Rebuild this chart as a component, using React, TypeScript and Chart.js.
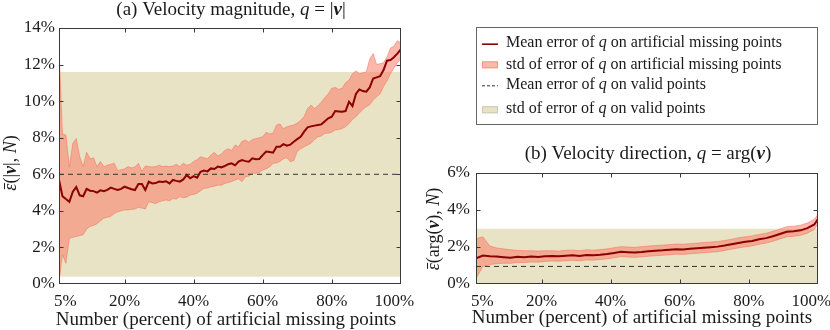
import React, { useEffect, useRef } from "react";
import { Chart, registerables } from "chart.js";

Chart.register(...registerables);

// ---------------- data ----------------
const xA = [
  1, 2, 3, 4, 5, 6, 7, 8, 9, 10, 11, 12, 13, 14, 15, 16, 17, 18, 19, 20,
  21, 22, 23, 24, 25, 26, 27, 28, 29, 30, 31, 32, 33, 34, 35, 36, 37, 38, 39, 40,
  41, 42, 43, 44, 45, 46, 47, 48, 49, 50, 51, 52, 53, 54, 55, 56, 57, 58, 59, 60,
  61, 62, 63, 64, 65, 66, 67, 68, 69, 70, 71, 72, 73, 74, 75, 76, 77, 78, 79, 80,
  81, 82, 83, 84, 85, 86, 87, 88, 89, 90, 91, 92, 93, 94, 95, 96, 97, 98, 99, 100,
];
const meanA = [
  5.7, 4.8, 4.65, 4.5, 5.05, 5.3, 4.85, 4.8, 5.2, 5.1,
  5.08, 5.0, 5.12, 5.07, 5.15, 5.27, 5.2, 5.14, 5.2, 5.32,
  5.25, 5.18, 5.14, 5.47, 5.47, 5.14, 5.6, 5.5, 5.52, 5.6,
  5.58, 5.62, 5.5, 5.69, 5.64, 5.6, 5.72, 5.96, 5.78, 5.9,
  5.81, 6.14, 6.2, 6.16, 6.32, 6.29, 6.42, 6.38, 6.45, 6.55,
  6.6, 6.49, 6.69, 6.78, 6.72, 6.69, 6.87, 6.82, 6.84, 7.05,
  7.24, 7.22, 7.18, 7.5, 7.5, 7.65, 7.56, 7.62, 7.78, 7.92,
  8.05, 8.33, 8.57, 8.62, 8.66, 8.7, 8.73, 8.9, 9.06, 9.15,
  9.46, 9.44, 9.42, 9.46, 9.97, 9.73, 10.39, 10.64, 10.55, 10.52,
  10.75, 11.24, 11.3, 11.36, 11.7, 12.21, 12.25, 12.4, 12.6, 12.83,
];
const upperA = [
  12.9, 8.2, 8.15, 6.4, 7.7, 7.96, 6.96, 6.42, 7.2, 6.85,
  6.9, 6.42, 6.7, 6.42, 6.5, 6.55, 6.6, 6.2, 6.25, 6.3,
  6.42, 6.35, 6.4, 6.6, 6.16, 6.45, 6.42, 6.4, 6.42, 6.5,
  6.42, 6.45, 6.42, 6.45, 6.55, 6.42, 6.6, 6.5, 6.55, 6.7,
  6.8, 6.96, 6.9, 6.85, 7.05, 7.2, 7.0, 7.1, 7.3, 7.4,
  7.3, 7.6, 7.5, 7.8, 7.87, 7.75, 7.9, 7.95, 8.0, 8.05,
  8.3, 8.2, 8.25, 8.7, 8.75, 8.5, 8.6, 8.65, 8.7, 8.8,
  8.95, 9.15, 9.6, 9.79, 9.6, 9.75, 9.95, 10.2, 10.4, 10.7,
  10.75, 10.65, 10.7, 11.0, 11.15, 11.5, 11.66, 11.5, 11.55, 11.6,
  12.3, 12.6, 12.0, 12.05, 12.1, 12.4, 12.9, 13.0, 13.3, 13.2,
];
const lowerA = [
  0.1, 1.6, 1.13, 2.5, 2.55, 2.6, 2.65, 2.7, 3.0, 3.15,
  3.2, 3.3, 3.45, 3.6, 3.65, 3.7, 3.85, 3.95, 4.0, 4.05,
  4.05, 4.08, 4.1, 4.2, 4.15, 4.1, 4.5, 4.45, 4.4, 4.5,
  4.55, 4.6, 4.55, 4.67, 4.65, 4.78, 4.72, 4.75, 4.87, 4.9,
  4.96, 5.1, 5.23, 5.25, 5.32, 5.35, 5.41, 5.4, 5.5, 5.55,
  5.6, 5.69, 5.75, 5.6, 5.87, 5.9, 6.05, 6.05, 6.1, 6.23,
  6.3, 6.4, 6.6, 6.62, 6.7, 6.85, 6.9, 6.69, 6.75, 7.24,
  7.4, 7.5, 7.6, 7.7, 7.9, 8.05, 8.1, 8.24, 8.25, 8.3,
  8.42, 8.45, 8.5, 8.6, 8.78, 9.0, 9.15, 9.35, 9.55, 9.7,
  9.8, 10.06, 10.24, 10.4, 10.8, 11.1, 11.5, 11.8, 12.1, 12.3,
];
const validMeanA = 6.0;
const validStdA = [0.4, 11.6];

const xB = [
  1, 3, 5, 7, 9, 11, 13, 15, 17, 19, 21, 23, 25, 27, 29, 31, 33, 35, 37, 39,
  41, 43, 45, 47, 49, 51, 53, 55, 57, 59, 61, 63, 65, 67, 69, 71, 73, 75, 77, 79,
  81, 83, 85, 87, 89, 91, 93, 95, 97, 99, 100,
];
const meanB = [
  1.39, 1.54, 1.5, 1.48, 1.45, 1.42, 1.47, 1.45, 1.48, 1.46,
  1.5, 1.52, 1.5, 1.53, 1.55, 1.52, 1.57, 1.55, 1.58, 1.62,
  1.68, 1.74, 1.72, 1.7, 1.73, 1.77, 1.8, 1.82, 1.85, 1.88,
  1.87, 1.9, 1.93, 1.96, 1.99, 2.02, 2.08, 2.15, 2.22, 2.28,
  2.33, 2.42, 2.48, 2.58, 2.7, 2.82, 2.85, 2.9, 3.02, 3.22, 3.5,
];
const upperB = [
  2.45, 2.55, 2.05, 1.95, 1.9, 1.85, 1.82, 1.8, 1.8, 1.78,
  1.8, 1.8, 1.78, 1.82, 1.83, 1.8, 1.85, 1.83, 1.86, 1.9,
  1.96, 2.02, 2.0, 1.98, 2.02, 2.05, 2.08, 2.1, 2.13, 2.16,
  2.15, 2.18, 2.21, 2.24, 2.27, 2.3, 2.35, 2.42, 2.5, 2.55,
  2.6, 2.68, 2.74, 2.85, 2.97, 3.1, 3.12, 3.18, 3.3, 3.5, 3.75,
];
const lowerB = [
  0.3, 0.95, 1.05, 1.1, 1.12, 1.12, 1.16, 1.16, 1.19, 1.18,
  1.22, 1.24, 1.23, 1.26, 1.28, 1.26, 1.3, 1.29, 1.32, 1.36,
  1.42, 1.48, 1.46, 1.44, 1.47, 1.5, 1.53, 1.55, 1.58, 1.61,
  1.6, 1.63, 1.66, 1.69, 1.72, 1.75, 1.81, 1.88, 1.95, 2.01,
  2.06, 2.15, 2.21, 2.31, 2.43, 2.55, 2.58, 2.63, 2.75, 2.95, 3.25,
];
const validMeanB = 0.95;
const validStdB = [-0.2, 2.98];

const xTickValues = [1, 20, 40, 60, 80, 100];
const xTickLabels = ["5%", "20%", "40%", "60%", "80%", "100%"];
const yTicksA = [0, 2, 4, 6, 8, 10, 12, 14];
const yTicksB = [0, 2, 4, 6];

const legendLabels = [
  [["Mean error of "], ["q", "i"], [" on artificial missing points"]],
  [["std of error of "], ["q", "i"], [" on artificial missing points"]],
  [["Mean error of "], ["q", "i"], [" on valid points"]],
  [["std of error of "], ["q", "i"], [" on valid points"]],
];

// ---------------- styles ----------------
const FAM = "'Liberation Serif', 'DejaVu Serif', serif";
const MEAN_COLOR = "#8b0000";
const BAND_FILL = "rgba(251,113,93,0.5)";
const BAND_EDGE = "rgba(251,113,93,0.55)";
const VALID_FILL = "rgb(233,227,198)";
const DASH_COLOR = "#333";
const TEXT = "#1a1a1a";
const TICK_SIZE = 17;
const TITLE_SIZE = 19;
const EDGE_PAD = "   "; // nudges the two end labels inward, as in the reference

type Seg = string[];

function segFont(style: string | undefined, size: number) {
  if (style === "i" || style === "ibar") return `italic ${size}px ${FAM}`;
  if (style === "bi") return `italic bold ${size}px ${FAM}`;
  return `${size}px ${FAM}`;
}

function drawRich(
  ctx: CanvasRenderingContext2D,
  segs: Seg[],
  x: number,
  y: number,
  size: number,
  rotate = false,
  align: "center" | "left" = "center"
) {
  ctx.save();
  ctx.fillStyle = TEXT;
  ctx.strokeStyle = TEXT;
  ctx.textBaseline = "middle";
  ctx.textAlign = "left";
  let w = 0;
  for (const s of segs) {
    ctx.font = segFont(s[1], size);
    w += ctx.measureText(s[0]).width;
  }
  ctx.translate(x, y);
  if (rotate) ctx.rotate(-Math.PI / 2);
  let cx = align === "center" ? -w / 2 : 0;
  for (const s of segs) {
    ctx.font = segFont(s[1], size);
    const sw = ctx.measureText(s[0]).width;
    ctx.fillText(s[0], cx, 0);
    if (s[1] === "ibar") {
      ctx.lineWidth = 1;
      ctx.beginPath();
      ctx.moveTo(cx + 1.5, -size * 0.36);
      ctx.lineTo(cx + sw + 0.5, -size * 0.36);
      ctx.stroke();
    }
    cx += sw;
  }
  ctx.restore();
}

type PanelCfg = {
  xs: number[];
  mean: number[];
  upper: number[];
  lower: number[];
  validMean: number;
  validStd: number[];
  yMax: number;
  yTicks: number[];
  yWidth: number;
  yTickPad: number;
  padTop: number;
  padRight: number;
  title: Seg[];
  titlePos: number[];
  yTitle: Seg[];
  yTitlePos: number[];
  xTitle: Seg[];
  xTitlePos: number[];
  legend: boolean;
};

function makeDecor(cfg: PanelCfg) {
  return {
    id: "decor",
    afterDraw(chart: any) {
      const ctx: CanvasRenderingContext2D = chart.ctx;
      const { left, right, top, bottom } = chart.chartArea;
      const xs = chart.scales.x;
      const ys = chart.scales.y;
      ctx.save();
      ctx.strokeStyle = "#3a3a3a";
      ctx.lineWidth = 1;
      const L = Math.round(left) + 0.5;
      const R = Math.round(right) - 0.5;
      const T = Math.round(top) + 0.5;
      const B = Math.round(bottom) - 0.5;
      ctx.strokeRect(L, T, R - L, B - T);
      ctx.beginPath();
      for (const v of xTickValues) {
        if (v === xTickValues[0] || v === xTickValues[xTickValues.length - 1]) continue;
        const px = Math.round(xs.getPixelForValue(v)) + 0.5;
        ctx.moveTo(px, B);
        ctx.lineTo(px, B - 4);
        ctx.moveTo(px, T);
        ctx.lineTo(px, T + 4);
      }
      for (const v of cfg.yTicks) {
        if (v === cfg.yTicks[0] || v === cfg.yTicks[cfg.yTicks.length - 1]) continue;
        const py = Math.round(ys.getPixelForValue(v)) + 0.5;
        ctx.moveTo(L, py);
        ctx.lineTo(L + 4, py);
        ctx.moveTo(R, py);
        ctx.lineTo(R - 4, py);
      }
      ctx.stroke();
      ctx.restore();

      drawRich(ctx, cfg.title, cfg.titlePos[0], cfg.titlePos[1], TITLE_SIZE);
      drawRich(ctx, cfg.yTitle, cfg.yTitlePos[0], cfg.yTitlePos[1], 18, true);
      drawRich(ctx, cfg.xTitle, cfg.xTitlePos[0], cfg.xTitlePos[1], TITLE_SIZE);

      if (cfg.legend) {
        const bx = Math.round(left) + 0.5;
        const bw = Math.round(right) - Math.round(left) - 1;
        const by = 27.5;
        const bh = 97;
        ctx.save();
        ctx.fillStyle = "#fff";
        ctx.fillRect(bx, by, bw, bh);
        ctx.strokeStyle = "#666";
        ctx.lineWidth = 1;
        ctx.strokeRect(bx, by, bw, bh);
        const sx0 = left + 6;
        const sx1 = left + 22;
        const tx = left + 30;
        const rows = [42.7, 64.3, 84.3, 108.3];
        ctx.strokeStyle = MEAN_COLOR;
        ctx.lineWidth = 1.6;
        ctx.beginPath();
        ctx.moveTo(sx0, rows[0] + 1.5);
        ctx.lineTo(sx1, rows[0] + 1.5);
        ctx.stroke();
        ctx.fillStyle = BAND_FILL;
        ctx.fillRect(sx0, rows[1] - 3, sx1 - sx0, 7);
        ctx.strokeStyle = BAND_EDGE;
        ctx.lineWidth = 1;
        ctx.strokeRect(sx0 + 0.5, rows[1] - 2.5, sx1 - sx0 - 1, 6);
        ctx.strokeStyle = DASH_COLOR;
        ctx.lineWidth = 1;
        ctx.setLineDash([3, 2]);
        ctx.beginPath();
        ctx.moveTo(sx0, rows[2] + 1.5);
        ctx.lineTo(sx1, rows[2] + 1.5);
        ctx.stroke();
        ctx.setLineDash([]);
        ctx.fillStyle = VALID_FILL;
        ctx.fillRect(sx0, rows[3] - 2, sx1 - sx0, 7);
        ctx.strokeStyle = "rgb(205,200,175)";
        ctx.strokeRect(sx0 + 0.5, rows[3] - 1.5, sx1 - sx0 - 1, 6);
        ctx.restore();
        legendLabels.forEach((segs, i) => {
          drawRich(ctx, segs as Seg[], tx, rows[i], 16, false, "left");
        });
      }
    },
  };
}

function pts(xs: number[], ys: number[]) {
  return xs.map((x, i) => ({ x, y: ys[i] }));
}

function makeConfig(cfg: PanelCfg): any {
  const x0 = cfg.xs[0];
  const x1 = cfg.xs[cfg.xs.length - 1];
  const base = { pointRadius: 0, pointHoverRadius: 0, tension: 0 };
  return {
    type: "line",
    data: {
      datasets: [
        {
          ...base,
          label: "Mean error of q on artificial missing points",
          data: pts(cfg.xs, cfg.mean),
          borderColor: MEAN_COLOR,
          borderWidth: 2,
          fill: false,
        },
        {
          ...base,
          label: "Mean error of q on valid points",
          data: [
            { x: x0, y: cfg.validMean },
            { x: x1, y: cfg.validMean },
          ],
          borderColor: DASH_COLOR,
          borderWidth: 1,
          borderDash: [5, 4],
          fill: false,
        },
        {
          ...base,
          label: "std of error of q on artificial missing points",
          data: pts(cfg.xs, cfg.upper),
          borderColor: BAND_EDGE,
          borderWidth: 1,
          backgroundColor: BAND_FILL,
          fill: "+1",
        },
        {
          ...base,
          label: "_lower",
          data: pts(cfg.xs, cfg.lower),
          borderColor: BAND_EDGE,
          borderWidth: 1,
          fill: false,
        },
        {
          ...base,
          label: "std of error of q on valid points",
          data: [
            { x: x0, y: cfg.validStd[1] },
            { x: x1, y: cfg.validStd[1] },
          ],
          borderWidth: 0,
          borderColor: "rgba(0,0,0,0)",
          backgroundColor: VALID_FILL,
          fill: "+1",
        },
        {
          ...base,
          label: "_validLow",
          data: [
            { x: x0, y: cfg.validStd[0] },
            { x: x1, y: cfg.validStd[0] },
          ],
          borderWidth: 0,
          borderColor: "rgba(0,0,0,0)",
          fill: false,
        },
      ],
    },
    options: {
      responsive: false,
      animation: false,
      events: [],
      layout: { padding: { left: 0, top: cfg.padTop, right: cfg.padRight, bottom: 0 } },
      plugins: {
        legend: { display: false },
        title: { display: false },
        tooltip: { enabled: false },
      },
      scales: {
        x: {
          type: "linear",
          min: 1,
          max: 100,
          afterBuildTicks: (s: any) => {
            s.ticks = xTickValues.map((v) => ({ value: v }));
          },
          afterFit: (s: any) => {
            s.height = 46;
          },
          grid: { display: false, drawTicks: false },
          border: { display: false },
          ticks: {
            padding: 7,
            maxRotation: 0,
            autoSkip: false,
            color: TEXT,
            font: { family: FAM, size: TICK_SIZE },
            callback: (v: number) => {
              const i = xTickValues.indexOf(v);
              if (i < 0) return "";
              if (i === 0) return EDGE_PAD + xTickLabels[i];
              if (i === xTickValues.length - 1) return xTickLabels[i] + EDGE_PAD;
              return xTickLabels[i];
            },
          },
        },
        y: {
          type: "linear",
          min: 0,
          max: cfg.yMax,
          afterBuildTicks: (s: any) => {
            s.ticks = cfg.yTicks.map((v) => ({ value: v }));
          },
          afterFit: (s: any) => {
            s.width = cfg.yWidth;
          },
          grid: { display: false, drawTicks: false },
          border: { display: false },
          ticks: {
            padding: cfg.yTickPad,
            color: TEXT,
            font: { family: FAM, size: TICK_SIZE },
            callback: (v: number) => `${v}%`,
          },
        },
      },
    },
  };
}

const panelA: PanelCfg = {
  xs: xA,
  mean: meanA,
  upper: upperA,
  lower: lowerA,
  validMean: validMeanA,
  validStd: validStdA,
  yMax: 14,
  yTicks: yTicksA,
  yWidth: 59,
  yTickPad: 4,
  padTop: 28,
  padRight: 30,
  title: [["(a) Velocity magnitude, "], ["q", "i"], [" = |"], ["v", "bi"], ["|"]],
  titlePos: [231, 10],
  yTitle: [["ε", "ibar"], ["(|"], ["v", "bi"], ["|, "], ["N", "i"], [")"]],
  yTitlePos: [11, 163],
  xTitle: [["Number (percent) of artificial missing points"]],
  xTitlePos: [226, 320],
  legend: false,
};

const panelB: PanelCfg = {
  xs: xB,
  mean: meanB,
  upper: upperB,
  lower: lowerB,
  validMean: validMeanB,
  validStd: validStdB,
  yMax: 6,
  yTicks: yTicksB,
  yWidth: 56,
  yTickPad: 6,
  padTop: 173,
  padRight: 30,
  title: [["(b) Velocity direction, "], ["q", "i"], [" = arg("], ["v", "bi"], [")"]],
  titlePos: [228, 154],
  yTitle: [["ε", "ibar"], ["(arg("], ["v", "bi"], ["), "], ["N", "i"], [")"]],
  yTitlePos: [14, 229],
  xTitle: [["Number (percent) of artificial missing points"]],
  xTitlePos: [222, 318],
  legend: true,
};

export default function App() {
  const refA = useRef<HTMLCanvasElement>(null);
  const refB = useRef<HTMLCanvasElement>(null);

  useEffect(() => {
    const cfgA = makeConfig(panelA);
    cfgA.plugins = [makeDecor(panelA)];
    const cfgB = makeConfig(panelB);
    cfgB.plugins = [makeDecor(panelB)];
    const a = new Chart(refA.current as HTMLCanvasElement, cfgA);
    const b = new Chart(refB.current as HTMLCanvasElement, cfgB);
    return () => {
      a.destroy();
      b.destroy();
    };
  }, []);

  return (
    <div
      style={{
        position: "fixed",
        left: 0,
        top: 0,
        width: 830,
        height: 330,
        overflow: "hidden",
        background: "#fff",
      }}
    >
      <canvas
        ref={refA}
        width={434}
        height={330}
        style={{ position: "absolute", left: 0, top: 0, width: 434, height: 330 }}
      />
      <canvas
        ref={refB}
        width={431}
        height={330}
        style={{ position: "absolute", left: 420, top: 0, width: 431, height: 330 }}
      />
    </div>
  );
}
